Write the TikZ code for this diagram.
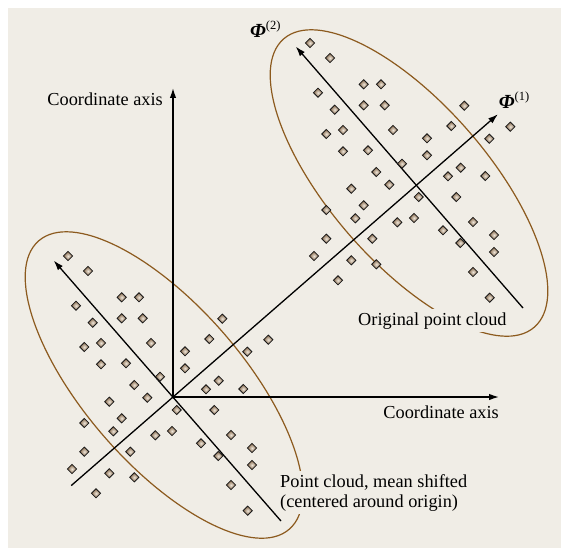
\documentclass[tikz,border=0pt]{standalone}
\usepackage{fontspec}
\setmainfont{Liberation Serif}
\usetikzlibrary{arrows.meta}
\definecolor{bgc}{RGB}{240,237,230}
\definecolor{ellc}{RGB}{140,90,30}
\definecolor{mkc}{RGB}{130,100,70}
\definecolor{mkin}{RGB}{238,230,218}
\tikzset{
  axisline/.style={line width=1.4pt, -{Latex[length=10pt,width=6.5pt]}},
  philine/.style={line width=1.3pt, -{Latex[length=10pt,width=6.5pt]}},
  cloudell/.style={draw=ellc, line width=1.2pt},
  lbl/.style={font=\fontsize{18.3}{21}\selectfont, inner sep=0pt},
  boxlbl/.style={lbl, fill=bgc, inner sep=3.5pt},
  philbl/.style={inner sep=0pt, anchor=base west},
  mk/.style={draw=black!90, line width=0.8pt, inner color=mkin, outer color=mkc},
}
\newcommand{\philab}[1]{{\fontsize{20}{22}\selectfont\bfseries\itshape Φ}\raisebox{8pt}{\fontsize{12.5}{14}\selectfont (#1)}}
\begin{document}
\begin{tikzpicture}[x=1pt,y=-1pt]
\useasboundingbox (0,0) rectangle (561,548);
\fill[white] (0,0) rectangle (561,548);
\fill[bgc] (8,8) rectangle (561,548);

% key coordinates
\coordinate (O) at (173,397);
\coordinate (C) at (415,184);
\coordinate (vtip) at (173,88);
\coordinate (htip) at (499,397);
\coordinate (p1s) at (71.2,485.6);
\coordinate (p1e) at (498,114.2);
\coordinate (r2a) at (523,308);
\coordinate (r2b) at (295.7,46.5);
\coordinate (l2a) at (281,521);
\coordinate (l2b) at (53.7,260.5);
\coordinate (ecr) at (409,183);
\coordinate (ecl) at (164,385);

% ellipses
\draw[cloudell, rotate around={-49:(ecr)}] (ecr) ellipse [x radius=191pt, y radius=79pt];
\draw[cloudell, rotate around={-49:(ecl)}] (ecl) ellipse [x radius=191pt, y radius=79pt];

% coordinate axes
\draw[axisline] (O) -- (vtip);
\draw[axisline] (O) -- (htip);

% principal axes
\draw[philine] (p1s) -- (p1e);
\draw[philine] (r2a) -- (r2b);
\draw[philine] (l2a) -- (l2b);

% point clouds
\foreach \dx/\dy in {-105/-141, -85/-126, -51.3/-99.7, -34/-99.7, -97/-91.3,
  -51.3/-78.7, -30.3/-78.7, -80.3/-74.3, 49.3/-78.3, -88.7/-50, -72/-54,
  -22/-54, 36.3/-58, 95.3/-57.3, 12/-45.7, 74.3/-45.3, -72/-32.7, -47/-33.7,
  12/-28.7, -13/-20.3, -38.7/-12, 45.7/-16.3, 33/-7.7, 70.3/-8, -25.7/0.7,
  -63.7/4.7, 3.7/13, 41.3/13, -51.3/21.3, -88.7/26, -59.7/34.3, -1/34,
  -17.7/38.3, 58/38, 28/46.3, 79/51, -88.7/54.7, -42.7/54.7, 45.3/59, 79/68,
  -101/72, -63.7/76.3, -38.7/80.3, 58/88, -77/96.3, 74.7/113.7}{
  \foreach \cx/\cy in {173/397, 415/184}{
    \shade[mk, shift={(\cx+\dx,\cy+\dy)}] (-4.6,0) -- (0,-4.6) -- (4.6,0) -- (0,4.6) -- cycle;
  }
}

% labels
\node[lbl, anchor=base east] (vlab) at (163,106) {Coordinate axis};
\node[lbl, anchor=base east] (hlab) at (499,418) {Coordinate axis};
\node[boxlbl, anchor=base west] (orig) at (354.5,325) {Original point cloud};
\node[boxlbl, anchor=base west] (pc1) at (276.5,487) {Point cloud, mean shifted};
\node[boxlbl, anchor=base west] (pc2) at (276.5,507) {(centered around origin)};
\node[philbl] (phi2) at (250,37.3) {\philab{2}};
\node[philbl] (phi1) at (498.7,108.7) {\philab{1}};
\end{tikzpicture}
\end{document}
